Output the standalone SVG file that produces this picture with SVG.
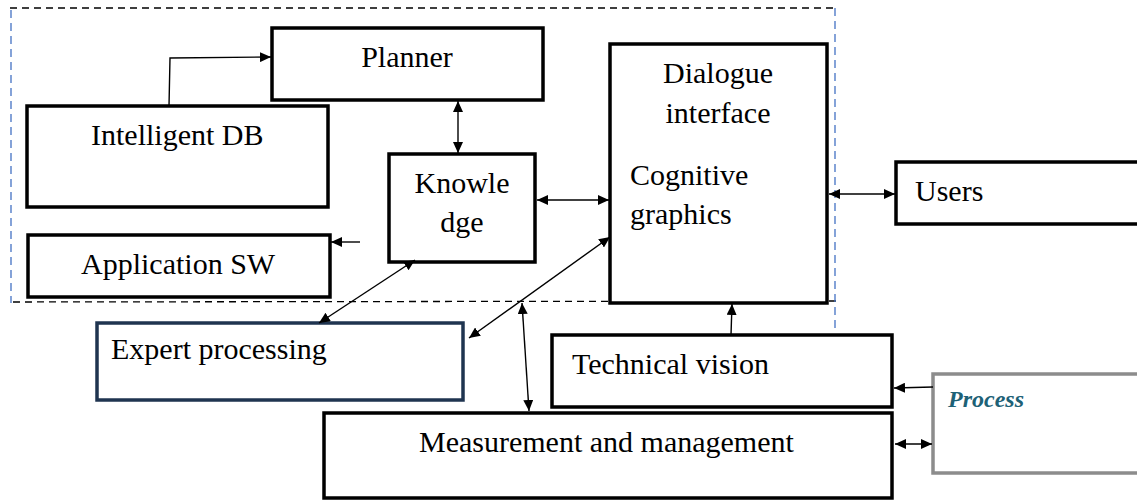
<svg xmlns="http://www.w3.org/2000/svg" width="1137" height="500" viewBox="0 0 1137 500">
<style>
.box{fill:#fff;stroke:#000;stroke-width:3.5}
.t{font-family:'Liberation Serif','Times New Roman',Times,serif;font-size:30px;fill:#000}
.ln{stroke:#000;stroke-width:1.4;fill:none}
.dk{stroke:#000;stroke-width:1.3;stroke-dasharray:7 5;fill:none}
.db{stroke:#4472c4;stroke-width:1.3;stroke-dasharray:8 5;fill:none}
</style>
<defs>
<marker id="ah" markerUnits="userSpaceOnUse" markerWidth="12" markerHeight="10" refX="11" refY="5" orient="auto-start-reverse"><path d="M0,0 L11,5 L0,10 Z" fill="#000"/></marker>
</defs>
<g id="frame">
<line class="dk" x1="10" y1="8" x2="836" y2="8"/>
<line class="dk" x1="13" y1="302" x2="840" y2="301"/>
<line class="db" x1="11" y1="10" x2="11" y2="303"/>
<line class="db" x1="835" y1="8" x2="835" y2="330"/>
</g>
<g id="planner"><rect class="box" x="272" y="28" width="271" height="72"/><text class="t" x="407" y="67" text-anchor="middle">Planner</text></g>
<g id="intelligent-db"><rect class="box" x="27" y="106" width="301" height="101"/><text class="t" x="91" y="145">Intelligent DB</text></g>
<g id="application-sw"><rect class="box" x="28" y="235" width="302" height="62"/><text class="t" x="81" y="274">Application SW</text></g>
<g id="knowledge"><rect class="box" x="389" y="154" width="146" height="108"/><text class="t" x="462" y="193" text-anchor="middle">Knowle</text><text class="t" x="462" y="232" text-anchor="middle">dge</text></g>
<g id="dialogue"><rect class="box" x="610" y="44" width="217" height="259"/><text class="t" x="718" y="83" text-anchor="middle">Dialogue</text><text class="t" x="718" y="123" text-anchor="middle">interface</text><text class="t" x="630" y="185">Cognitive</text><text class="t" x="630" y="224">graphics</text></g>
<g id="users"><rect class="box" x="896" y="162" width="250" height="62"/><text class="t" x="915" y="201">Users</text></g>
<g id="expert"><rect x="97" y="323" width="366" height="77" fill="#fff" stroke="#1f3450" stroke-width="3.5"/><text class="t" x="111" y="359">Expert processing</text></g>
<g id="technical-vision"><rect class="box" x="552" y="335" width="340" height="72"/><text class="t" x="572" y="374">Technical vision</text></g>
<g id="measurement"><rect class="box" x="324" y="413" width="568" height="85"/><text class="t" x="419" y="452">Measurement and management</text></g>
<g id="process"><rect x="933" y="374" width="220" height="99" fill="#fff" stroke="#8c8c8c" stroke-width="3.5"/><text x="948" y="407" font-family="'Liberation Serif','Times New Roman',serif" font-size="24" font-weight="bold" font-style="italic" fill="#1d6176">Process</text></g>
<g id="connectors">
<polyline class="ln" points="169,106 170,58 271,57" marker-end="url(#ah)"/>
<line class="ln" x1="360" y1="242" x2="331" y2="242" marker-end="url(#ah)"/>
<line class="ln" x1="458" y1="101" x2="458" y2="153" marker-start="url(#ah)" marker-end="url(#ah)"/>
<line class="ln" x1="537" y1="200" x2="609" y2="200" marker-start="url(#ah)" marker-end="url(#ah)"/>
<line class="ln" x1="829" y1="194" x2="895" y2="194" marker-start="url(#ah)" marker-end="url(#ah)"/>
<line class="ln" x1="415" y1="260" x2="319" y2="323" marker-start="url(#ah)" marker-end="url(#ah)"/>
<line class="ln" x1="610" y1="237" x2="469" y2="338" marker-start="url(#ah)" marker-end="url(#ah)"/>
<line class="ln" x1="522" y1="303" x2="529" y2="411" marker-start="url(#ah)" marker-end="url(#ah)"/>
<line class="ln" x1="731" y1="335" x2="732" y2="304" marker-end="url(#ah)"/>
<line class="ln" x1="933" y1="387" x2="894" y2="388" marker-end="url(#ah)"/>
<line class="ln" x1="895" y1="444" x2="932" y2="444" marker-start="url(#ah)" marker-end="url(#ah)"/>
</g>
</svg>
